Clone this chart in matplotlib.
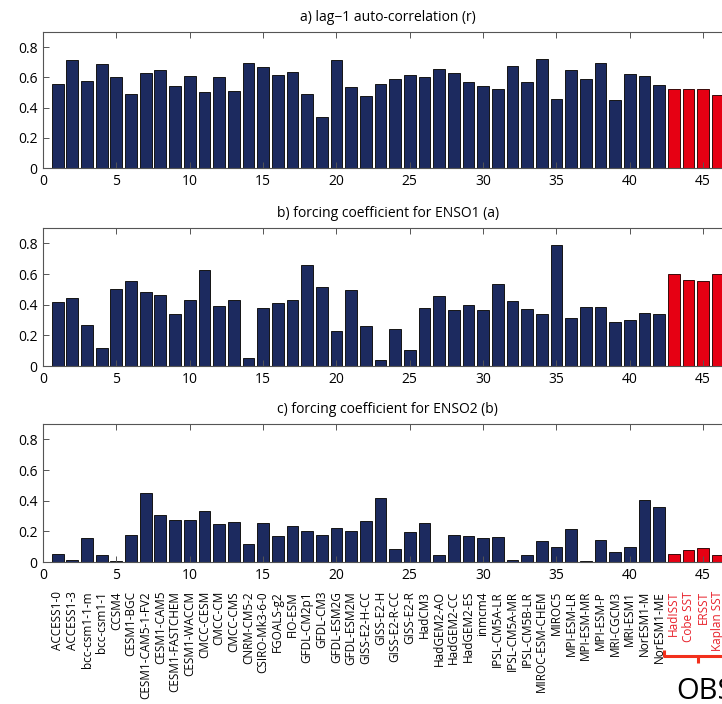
import matplotlib
matplotlib.use("Agg")
import matplotlib.pyplot as plt
import matplotlib.transforms as mtransforms

plt.rcParams['font.family'] = ['Open Sans', 'DejaVu Sans']

models = ["ACCESS1-0", "ACCESS1-3", "bcc-csm1-1-m", "bcc-csm1-1", "CCSM4",
          "CESM1-BGC", "CESM1-CAM5-1-FV2", "CESM1-CAM5", "CESM1-FASTCHEM",
          "CESM1-WACCM", "CMCC-CESM", "CMCC-CM", "CMCC-CMS", "CNRM-CM5-2",
          "CSIRO-Mk3-6-0", "FGOALS-g2", "FIO-ESM", "GFDL-CM2p1", "GFDL-CM3",
          "GFDL-ESM2G", "GFDL-ESM2M", "GISS-E2-H-CC", "GISS-E2-H",
          "GISS-E2-R-CC", "GISS-E2-R", "HadCM3", "HadGEM2-AO", "HadGEM2-CC",
          "HadGEM2-ES", "inmcm4", "IPSL-CM5A-LR", "IPSL-CM5A-MR",
          "IPSL-CM5B-LR", "MIROC-ESM-CHEM", "MIROC5", "MPI-ESM-LR",
          "MPI-ESM-MR", "MPI-ESM-P", "MRI-CGCM3", "MRI-ESM1", "NorESM1-M",
          "NorESM1-ME"]
obs = ["HadISST", "Cobe SST", "ERSST", "Kaplan SST"]

# lag-1 auto-correlation r
r_models = [0.559, 0.713, 0.577, 0.689, 0.605, 0.491, 0.627, 0.649, 0.544,
            0.610, 0.502, 0.601, 0.509, 0.693, 0.671, 0.614, 0.636, 0.489,
            0.336, 0.713, 0.535, 0.478, 0.559, 0.590, 0.616, 0.601, 0.658,
            0.629, 0.566, 0.544, 0.526, 0.678, 0.566, 0.719, 0.454, 0.647,
            0.588, 0.697, 0.450, 0.623, 0.607, 0.550]
r_obs = [0.526, 0.526, 0.526, 0.482]

# forcing coefficient for ENSO1 (a)
a_models = [0.419, 0.445, 0.268, 0.116, 0.502, 0.557, 0.482, 0.461, 0.340,
            0.432, 0.629, 0.393, 0.432, 0.050, 0.377, 0.408, 0.432, 0.656,
            0.515, 0.228, 0.498, 0.261, 0.037, 0.239, 0.105, 0.379, 0.458,
            0.362, 0.401, 0.366, 0.537, 0.423, 0.375, 0.340, 0.787, 0.314,
            0.388, 0.384, 0.285, 0.300, 0.346, 0.340]
a_obs = [0.599, 0.564, 0.555, 0.599]

# forcing coefficient for ENSO2 (b)
b_models = [0.052, 0.013, 0.155, 0.048, 0.004, 0.175, 0.452, 0.304, 0.275,
            0.275, 0.334, 0.249, 0.258, 0.120, 0.256, 0.170, 0.236, 0.201,
            0.175, 0.225, 0.205, 0.269, 0.420, 0.087, 0.197, 0.256, 0.044,
            0.175, 0.168, 0.157, 0.162, 0.013, 0.048, 0.140, 0.096, 0.212,
            0.009, 0.142, 0.066, 0.101, 0.404, 0.361]
b_obs = [0.052, 0.077, 0.090, 0.048]

titles = ["a) lag\u22121 auto-correlation (r)",
          "b) forcing coefficient for ENSO1 (a)",
          "c) forcing coefficient for ENSO2 (b)"]
yticks = [0, 0.2, 0.4, 0.6, 0.8]
yticklabels = ["0", "0.2", "0.4", "0.6", "0.8"]
xticks = list(range(0, 50, 5))

NAVY = "#1c2a5f"
RED = "#e60013"
LABEL_RED = "#e8202a"
BRACKET_RED = "#f2301c"

W, H = 722, 704
fig = plt.figure(figsize=(W / 100, H / 100), dpi=100)

x_left = 43
x_right = 43 + 47 * 14.67
panels = [(32, 168), (228, 366), (424, 562)]
series = [(r_models, r_obs), (a_models, a_obs), (b_models, b_obs)]

n_mod = len(models)
axes = []
for (top, bot), (vm, vo), title in zip(panels, series, titles):
    ax = fig.add_axes([x_left / W, 1 - bot / H, (x_right - x_left) / W,
                       (bot - top) / H])
    xm = list(range(1, n_mod + 1))
    xo = list(range(n_mod + 1, n_mod + 1 + len(obs)))
    ax.bar(xm, vm, width=0.8, color=NAVY, edgecolor="#151515", linewidth=0.7)
    ax.bar(xo, vo, width=0.8, color=RED, edgecolor="#3a0a0a", linewidth=0.7)
    ax.set_xlim(0, 47)
    ax.set_ylim(0, 0.9)
    ax.set_yticks(yticks)
    ax.set_yticklabels(yticklabels)
    ax.set_xticks(xticks)
    ax.set_xticklabels([str(t) for t in xticks])
    ax.tick_params(direction="in", length=4, width=0.7, colors="#555555",
                   labelcolor="black", labelsize=10, top=True, right=True,
                   pad=4)
    for s in ax.spines.values():
        s.set_color("#555555")
        s.set_linewidth(0.8)
    ax.set_title(title, fontsize=10, pad=8)
    axes.append(ax)

# model and observation names under the bottom panel
ax = axes[2]
names = models + obs
for i, name in enumerate(names, start=1):
    col = "black" if i <= n_mod else LABEL_RED
    ax.annotate(name, xy=(i, 0), xycoords=("data", "axes fraction"),
                xytext=(0, -29), textcoords="offset pixels",
                rotation=90, ha="center", va="top", fontsize=8.45,
                color=col, annotation_clip=False)

# bracket grouping the observational data sets
trans = mtransforms.blended_transform_factory(
    ax.transData, mtransforms.IdentityTransform())
y0 = H - 562
yb = y0 - 94
xl, xc, xr = 42.3, 44.65, 47.0
ax.plot([xl, xl, xr], [yb + 6, yb, yb], color=BRACKET_RED, lw=2.2,
        transform=trans, clip_on=False, solid_capstyle="butt")
ax.plot([xc, xc], [yb, yb - 7], color=BRACKET_RED, lw=2.2,
        transform=trans, clip_on=False, solid_capstyle="butt")
ax.text(43.2, yb - 43, "OBS", transform=trans, ha="left", va="baseline",
        fontsize=21, color="black", clip_on=False)

fig.savefig("out.png", dpi=100)
